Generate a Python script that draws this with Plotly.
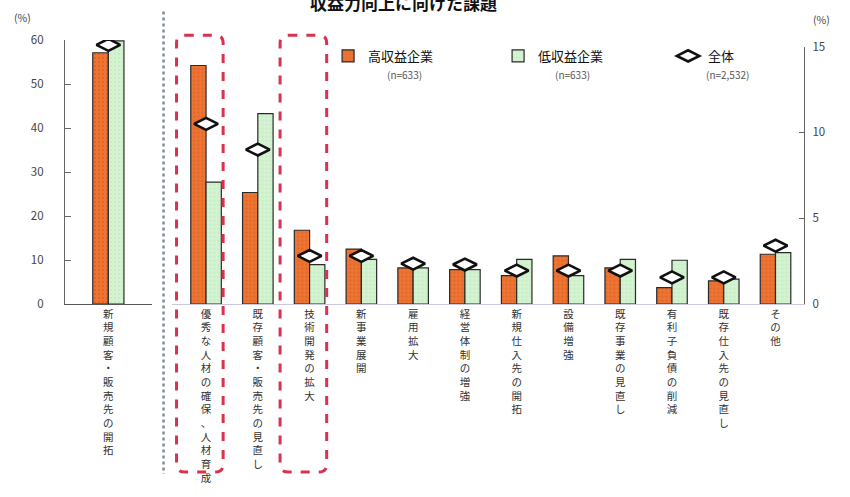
import plotly.graph_objects as go

# ---------------- data ----------------
first_category = ["新規顧客・販売先の開拓"]
first_high = [57.1]
first_low = [59.8]
first_all = [58.9]

categories = [
    "優秀な人材の確保、人材育成",
    "既存顧客・販売先の見直し",
    "技術開発の拡大",
    "新事業展開",
    "雇用拡大",
    "経営体制の増強",
    "新規仕入先の開拓",
    "設備増強",
    "既存事業の見直し",
    "有利子負債の削減",
    "既存仕入先の見直し",
    "その他",
]
high_profit = [13.9, 6.5, 4.3, 3.2, 2.1, 2.0, 1.65, 2.8, 2.1, 0.95, 1.35, 2.9]
low_profit = [7.1, 11.1, 2.3, 2.6, 2.1, 2.0, 2.6, 1.65, 2.6, 2.55, 1.45, 3.0]
overall = [10.5, 9.0, 2.8, 2.8, 2.35, 2.3, 1.95, 1.95, 1.95, 1.55, 1.55, 3.4]

left_ticks = [0, 10, 20, 30, 40, 50, 60]
right_ticks = [0, 5, 10, 15]
highlighted = [0, 2]  # indices of categories framed by red dashed boxes

series_names = ["高収益企業", "低収益企業", "全体"]
series_n = ["(n=633)", "(n=633)", "(n=2,532)"]
title_text = "収益力向上に向けた課題"

# ---------------- style ----------------
FONT = "Noto Sans CJK JP"
ORANGE = "#ef7434"
ORANGE_DOT = "#c9561c"
GREEN = "#d3f3d1"
GREEN_DOT = "#b5dfb3"
OUTLINE = "#2a2a2a"
AXIS = "#666666"

W, H = 850, 497
L, R, T, B = 65, 35, 40, 179
PW, PH = W - L - R, H - T - B


def px_x(px):
    return (px - L) / PW


def px_y(py):
    return (T + PH - py) / PH


def vert(s):
    return "<br>".join(list(s))


fig = go.Figure()

# left panel
fig.add_trace(go.Bar(
    x=[0], y=first_high, xaxis="x", yaxis="y", width=0.18, offset=-0.18,
    marker=dict(color=ORANGE, line=dict(color=OUTLINE, width=1.2),
                pattern=dict(shape=".", fgcolor=ORANGE_DOT, bgcolor=ORANGE, size=4, solidity=0.25)),
    showlegend=False, name=series_names[0]))
fig.add_trace(go.Bar(
    x=[0], y=first_low, xaxis="x", yaxis="y", width=0.18, offset=0.0,
    marker=dict(color=GREEN, line=dict(color=OUTLINE, width=1.2),
                pattern=dict(shape=".", fgcolor=GREEN_DOT, bgcolor=GREEN, size=4, solidity=0.2)),
    showlegend=False, name=series_names[1]))
fig.add_trace(go.Scatter(
    x=[0], y=first_all, xaxis="x", yaxis="y", mode="markers",
    marker=dict(symbol="diamond-wide", size=17, color="white",
                line=dict(color="#111111", width=2.6)),
    showlegend=False, name=series_names[2]))

# right panel
xi = list(range(len(categories)))
fig.add_trace(go.Bar(
    x=xi, y=high_profit, xaxis="x2", yaxis="y2", width=0.295, offset=-0.295,
    marker=dict(color=ORANGE, line=dict(color=OUTLINE, width=1.2),
                pattern=dict(shape=".", fgcolor=ORANGE_DOT, bgcolor=ORANGE, size=4, solidity=0.25)),
    name=series_names[0]))
fig.add_trace(go.Bar(
    x=xi, y=low_profit, xaxis="x2", yaxis="y2", width=0.295, offset=0.0,
    marker=dict(color=GREEN, line=dict(color=OUTLINE, width=1.2),
                pattern=dict(shape=".", fgcolor=GREEN_DOT, bgcolor=GREEN, size=4, solidity=0.2)),
    name=series_names[1]))
fig.add_trace(go.Scatter(
    x=xi, y=overall, xaxis="x2", yaxis="y2", mode="markers",
    marker=dict(symbol="diamond-wide", size=17, color="white",
                line=dict(color="#111111", width=2.6)),
    name=series_names[2]))

tickfont_x = dict(family=FONT, size=10.5, color="#333333")
tickfont_y = dict(family=FONT, size=11.5, color="#444444")

fig.update_layout(
    width=W, height=H,
    margin=dict(l=L, r=R, t=T, b=B, pad=0),
    paper_bgcolor="white", plot_bgcolor="white",
    font=dict(family=FONT, color="#222222"),
    barmode="overlay",
    xaxis=dict(domain=[0, px_x(153)], range=[-0.5, 0.5], anchor="y",
               tickvals=[0], ticktext=[vert(c) for c in first_category],
               tickfont=tickfont_x, showline=True, linecolor="#555555", linewidth=1.3,
               showgrid=False, zeroline=False, ticks=""),
    yaxis=dict(domain=[0, 1], range=[0, 60], anchor="x",
               tickvals=left_ticks, tickfont=tickfont_y,
               showline=True, linecolor=AXIS, linewidth=1.3,
               ticks="inside", ticklen=6, tickcolor=AXIS, tickwidth=1.2,
               ticklabelstandoff=18, showgrid=False, zeroline=False),
    xaxis2=dict(domain=[px_x(174), 1], range=[-0.65, 11.55], anchor="y2",
                tickvals=xi, ticktext=[vert(c) for c in categories],
                tickfont=tickfont_x, showline=True, linecolor="#c9c9de", linewidth=1.3,
                showgrid=False, zeroline=False, ticks=""),
    yaxis2=dict(domain=[0, px_y(47)], range=[0, 15], anchor="x2", side="right",
                tickvals=right_ticks, tickfont=tickfont_y,
                showline=True, linecolor=AXIS, linewidth=1.3,
                ticks="inside", ticklen=5, tickcolor=AXIS, tickwidth=1.2,
                ticklabelstandoff=5, showgrid=False, zeroline=False),
    legend=dict(orientation="h", x=px_x(332), xanchor="left", y=px_y(41), yanchor="top",
                entrywidth=125, entrywidthmode="pixels",
                font=dict(family=FONT, size=13, color="#111111"),
                bgcolor="rgba(0,0,0,0)", traceorder="normal", itemwidth=30),
)

# dotted separator between the two panels
fig.add_shape(type="line", xref="paper", yref="paper",
              x0=px_x(165), x1=px_x(165), y0=px_y(10), y1=px_y(497),
              line=dict(color="#7f8a9a", width=2.5, dash="dot"))

# red dashed rounded boxes around highlighted categories
rx, ry = 0.16, 8 / PH
y_top, y_bot = px_y(35), px_y(495)
for i in highlighted:
    x0, x1 = i - 0.57, i + 0.33
    path = (f"M {x0+rx},{y_top} L {x1-rx},{y_top} Q {x1},{y_top} {x1},{y_top-ry} "
            f"L {x1},{y_bot+ry} Q {x1},{y_bot} {x1-rx},{y_bot} "
            f"L {x0+rx},{y_bot} Q {x0},{y_bot} {x0},{y_bot+ry} "
            f"L {x0},{y_top-ry} Q {x0},{y_top} {x0+rx},{y_top} Z")
    fig.add_shape(type="path", xref="x2", yref="paper", path=path,
                  line=dict(color="#d8324e", width=3, dash="dash"))

# title (partly cut at top as in reference)
fig.add_annotation(text=f"<b>{title_text}</b>", xref="paper", yref="paper",
                   x=px_x(409), y=px_y(0), xanchor="center", yanchor="middle",
                   showarrow=False, font=dict(family=FONT, size=17, color="#111111"))

# unit labels
fig.add_annotation(text="(%)", xref="paper", yref="paper", x=px_x(22), y=px_y(16),
                   xanchor="center", yanchor="middle", showarrow=False,
                   font=dict(family=FONT, size=10.5, color="#444444"))
fig.add_annotation(text="(%)", xref="paper", yref="paper", x=px_x(822), y=px_y(18),
                   xanchor="left", yanchor="middle", showarrow=False,
                   font=dict(family=FONT, size=10.5, color="#444444"))

# sample sizes under legend entries
for n_txt, cx in zip(series_n, [410, 580, 737]):
    fig.add_annotation(text=n_txt, xref="paper", yref="paper", x=px_x(cx), y=px_y(76),
                       xanchor="center", yanchor="middle", showarrow=False,
                       font=dict(family=FONT, size=10, color="#555555"))

fig.write_html("out.html")
